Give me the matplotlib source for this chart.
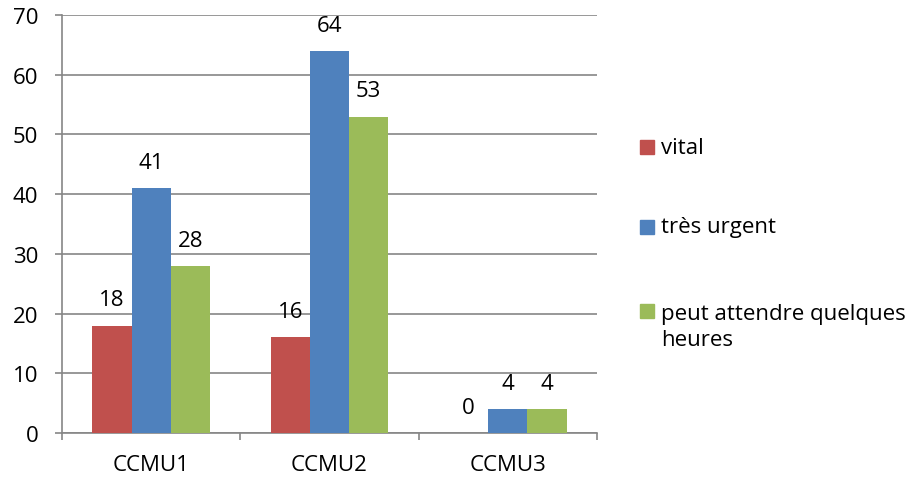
import matplotlib.pyplot as plt
import numpy as np
from matplotlib.patches import Rectangle

categories = ['CCMU1', 'CCMU2', 'CCMU3']
series_names = ['vital', 'très urgent', 'peut attendre quelques\nheures']
vital = [18, 16, 0]
tres_urgent = [41, 64, 4]
peut_attendre = [28, 53, 4]
colors = ['#C0504D', '#4F81BD', '#9BBB59']

plt.rcParams['font.family'] = ['Open Sans', 'DejaVu Sans']
grid_col = '#868686'
fs = 16

fig = plt.figure(figsize=(9.2, 4.81), dpi=100)
ax = fig.add_axes([62 / 920, 47 / 481, 535 / 920, 418 / 481])

x = np.arange(len(categories))
w = 0.22
for i, vals in enumerate([vital, tres_urgent, peut_attendre]):
    pos = x + (i - 1) * w
    ax.bar(pos, vals, width=w, color=colors[i], zorder=3)
    for p, v in zip(pos, vals):
        ax.annotate(str(v), (p, v), xytext=(0, 11), textcoords='offset points',
                    ha='center', va='bottom', fontsize=fs, color='black')

ax.set_xlim(-0.5, 2.5)
ax.set_ylim(0, 70)
ax.set_yticks(range(0, 71, 10))
ax.set_xticks([-0.5, 0.5, 1.5, 2.5])
ax.set_xticklabels([])
ax.set_xticks(x, minor=True)
ax.set_xticklabels(categories, minor=True)
ax.tick_params(axis='x', which='minor', length=0, labelsize=fs, pad=15)
ax.tick_params(axis='x', which='major', length=5, color=grid_col, width=1.2)
ax.tick_params(axis='y', length=5, color=grid_col, width=1.2, labelsize=fs, pad=12)

ax.grid(axis='y', color=grid_col, linewidth=1.2, zorder=0)
for s in ['top', 'right']:
    ax.spines[s].set_visible(False)
for s in ['left', 'bottom']:
    ax.spines[s].set_color(grid_col)
    ax.spines[s].set_linewidth(1.2)

# legend on the right
leg_y = [148, 228, 312]
for name, c, yy in zip(series_names, colors, leg_y):
    fig.add_artist(Rectangle((640 / 920, (481 - yy - 7) / 481), 14 / 920, 14 / 481,
                             transform=fig.transFigure, color=c))
    if '\n' in name:
        fig.text(661 / 920, (481 - yy + 8) / 481, name, fontsize=fs, va='top',
                 ha='left', linespacing=1.32)
    else:
        fig.text(661 / 920, (481 - yy) / 481, name, fontsize=fs, va='center', ha='left')

fig.savefig('out.png', dpi=100)
